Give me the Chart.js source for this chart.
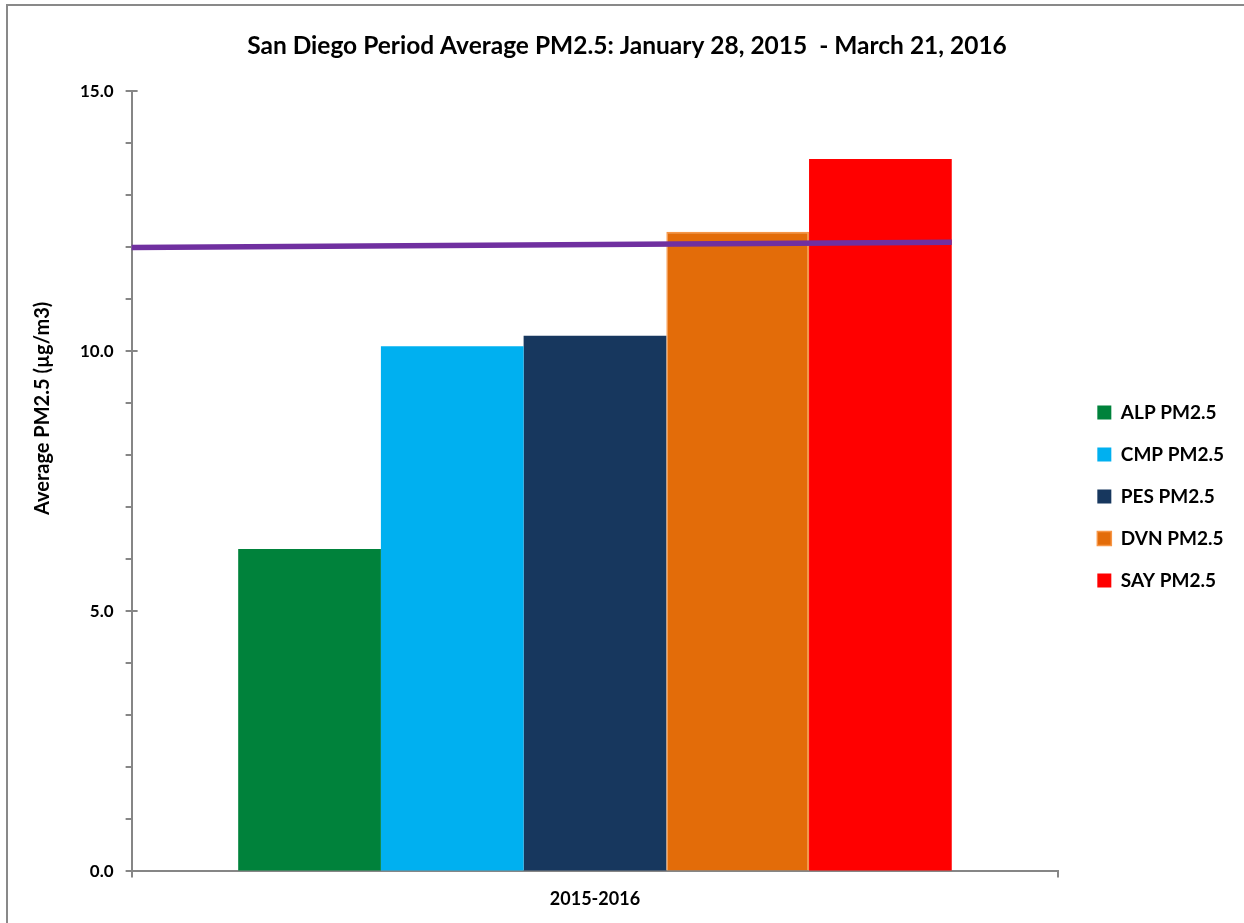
<!DOCTYPE html>
<html>
<head>
<meta charset="utf-8">
<title>San Diego Period Average PM2.5</title>
<script src="https://cdn.jsdelivr.net/npm/chart.js@4/dist/chart.umd.min.js"></script>
<style>
  html, body { margin: 0; padding: 0; background: #fff; overflow: hidden; }
  #wrap { position: relative; width: 1244px; height: 923px; }
  #frame {
    position: absolute; left: 6px; top: 4px; width: 1300px; height: 1000px;
    border: 2px solid #898989; pointer-events: none;
  }
</style>
</head>
<body>
<div id="wrap">
  <canvas id="chart" width="1244" height="923"></canvas>
  <div id="frame"></div>
</div>
<script>
const categories = ["2015-2016"];
const siteNames = ["ALP PM2.5", "CMP PM2.5", "PES PM2.5", "DVN PM2.5", "SAY PM2.5"];
const siteValues = [6.2, 10.1, 10.3, 12.3, 13.7];
const siteColors = ["#00823B", "#00B0F0", "#17375E", "#E36C09", "#FF0000"];
const siteBorders = ["#00823B", "#00B0F0", "#17375E", "#F79646", "#FF0000"];

// standard line, x in category units (-0.5 = left edge of the category)
const stdLineX = [-0.5, 0.385];
const stdLineY = [12.0, 12.1];

const yTickLabels = [0, 5, 10, 15];
const yTitle = "Average PM2.5 (µg/m3)";
const FONT = "Lato, 'Open Sans', sans-serif";
const AXIS_GRAY = "#868686";

const datasets = siteNames.map((name, i) => ({
  type: "bar",
  label: name,
  data: [siteValues[i]],
  backgroundColor: siteColors[i],
  borderColor: siteBorders[i],
  borderWidth: i === 3 ? 1.5 : 0,
  categoryPercentage: 0.77,
  barPercentage: 1.0,
  order: 2
}));

datasets.push({
  type: "line",
  label: "Standard",
  parsing: false,
  data: stdLineX.map((x, i) => ({ x: x, y: stdLineY[i] })),
  borderColor: "#7030A0",
  borderWidth: 5.5,
  pointRadius: 0,
  fill: false,
  order: 1
});

const tweaks = {
  id: "tweaks",
  afterLayout(chart) {
    const lg = chart.legend;
    if (lg) {
      lg.left += 16;
      lg.right += 16;
      lg.top += 36;
      lg.bottom += 36;
    }
    const tb = chart.titleBlock;
    if (tb) {
      tb.left -= 16;
      tb.right -= 16;
    }
  },
  afterDraw(chart) {
    const { ctx, chartArea } = chart;
    const y = chart.scales.y;
    // major ticks cross the axis
    ctx.save();
    ctx.strokeStyle = AXIS_GRAY;
    ctx.lineWidth = 2;
    yTickLabels.forEach((v) => {
      const py = Math.round(y.getPixelForValue(v));
      ctx.beginPath();
      ctx.moveTo(chartArea.left, py);
      ctx.lineTo(chartArea.left + 6, py);
      ctx.stroke();
    });
    ctx.restore();

    ctx.save();
    ctx.font = "bold 20px " + FONT;
    ctx.fillStyle = "#000";
    ctx.textAlign = "center";
    ctx.textBaseline = "middle";
    ctx.translate(chartArea.left - 89, (chartArea.top + chartArea.bottom) / 2 - 73);
    ctx.rotate(-Math.PI / 2);
    ctx.fillText(yTitle, 0, 0);
    ctx.restore();
  }
};

new Chart(document.getElementById("chart"), {
  type: "bar",
  data: { labels: categories, datasets: datasets },
  plugins: [tweaks],
  options: {
    responsive: false,
    animation: false,
    layout: { padding: { left: 68, right: 26, top: 0, bottom: 2 } },
    plugins: {
      title: {
        display: true,
        text: "San Diego Period Average PM2.5: January 28, 2015  - March 21, 2016",
        color: "#000",
        font: { family: FONT, size: 24.5, weight: "bold" },
        padding: { top: 31, bottom: 31 }
      },
      legend: {
        position: "right",
        align: "center",
        labels: {
          color: "#000",
          font: { family: FONT, size: 19, weight: "bold" },
          boxWidth: 14,
          boxHeight: 14,
          padding: 23,
          filter: (item) => item.datasetIndex < siteNames.length
        }
      },
      tooltip: { enabled: false }
    },
    scales: {
      x: {
        type: "category",
        offset: true,
        border: { color: AXIS_GRAY, width: 2 },
        grid: {
          offset: true,
          drawOnChartArea: false,
          color: AXIS_GRAY,
          tickLength: 6,
          lineWidth: 2
        },
        ticks: {
          color: "#000",
          font: { family: FONT, size: 18, weight: "bold" },
          padding: 11
        }
      },
      y: {
        min: 0,
        max: 15,
        border: { color: AXIS_GRAY, width: 2 },
        grid: {
          drawOnChartArea: false,
          color: AXIS_GRAY,
          tickLength: 6,
          lineWidth: 2
        },
        ticks: {
          stepSize: 1,
          color: "#000",
          padding: 12,
          font: { family: FONT, size: 17, weight: "bold" },
          autoSkip: false,
          callback: (v) => yTickLabels.includes(v) ? v.toFixed(1) : ""
        }
      }
    }
  }
});
</script>
</body>
</html>
